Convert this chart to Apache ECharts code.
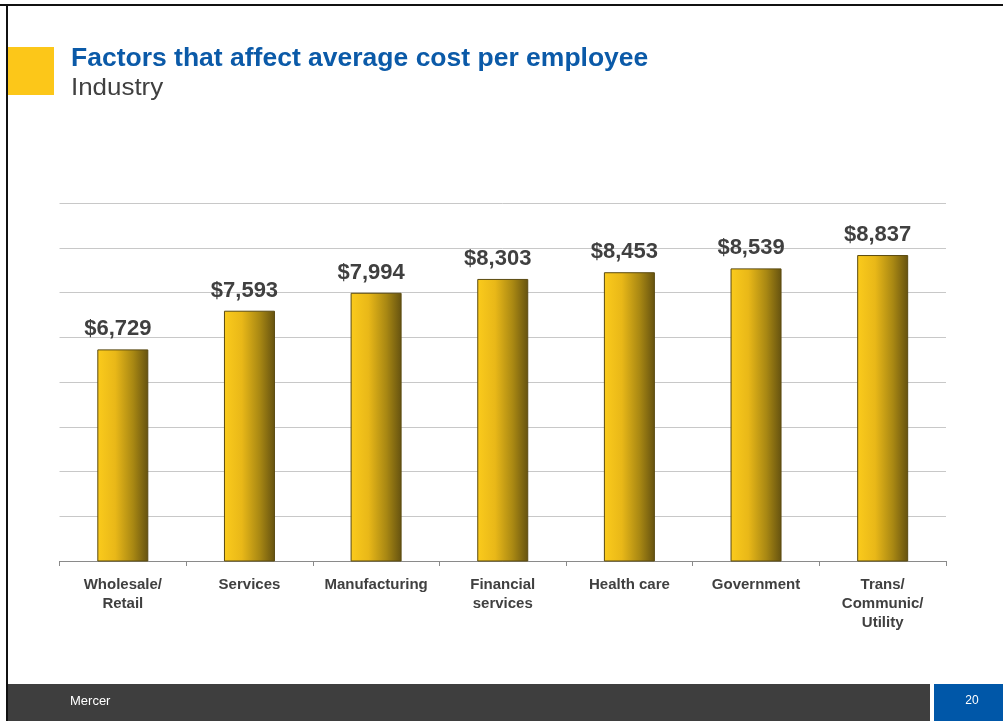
<!DOCTYPE html>
<html>
<head>
<meta charset="utf-8">
<script src="https://cdn.jsdelivr.net/npm/echarts@6/dist/echarts.min.js"></script>
<style>
  html, body { margin: 0; padding: 0; background: #ffffff; }
  #chart { width: 1003px; height: 721px; }
</style>
</head>
<body>
<div id="chart"></div>
<script>
// Average annual cost per employee by industry
const categories = ['Wholesale/\nRetail', 'Services', 'Manufacturing', 'Financial\nservices', 'Health care', 'Government', 'Trans/\nCommunic/\nUtility'];
const costs = [6729, 7593, 7994, 8303, 8453, 8539, 8837];

const titleText = 'Factors that affect average cost per employee';
const subtitleText = 'Industry';
const footerText = 'Mercer';
const pageNumber = '20';

const FONT = '"Liberation Sans", Arial, Helvetica, sans-serif';

const chart = echarts.init(document.getElementById('chart'), null, { renderer: 'canvas' });

const barFill = new echarts.graphic.LinearGradient(0, 0, 1, 0, [
  { offset: 0, color: '#FBCB1C' },
  { offset: 0.35, color: '#E9B818' },
  { offset: 0.7, color: '#A98813' },
  { offset: 1, color: '#655210' }
]);

chart.setOption({
  backgroundColor: '#ffffff',
  animation: false,
  grid: { left: 59.5, right: 57, top: 203, bottom: 160, containLabel: false },
  xAxis: {
    type: 'category',
    data: categories,
    axisLine: { lineStyle: { color: '#8a8a8a', width: 1 } },
    axisTick: { show: true, length: 5, alignWithLabel: false, lineStyle: { color: '#8a8a8a' } },
    axisLabel: {
      interval: 0,
      margin: 14,
      color: '#404040',
      fontFamily: FONT,
      fontWeight: 'bold',
      fontSize: 15,
      lineHeight: 19
    }
  },
  yAxis: {
    type: 'value',
    min: 2000,
    max: 10000,
    interval: 1000,
    axisLine: { show: false },
    axisTick: { show: false },
    axisLabel: { show: false },
    splitLine: { lineStyle: { color: '#c8c8c8', width: 1 } }
  },
  series: [{
    type: 'bar',
    data: costs,
    barWidth: 51,
    itemStyle: { color: barFill, borderColor: '#5a4a10', borderWidth: 1 },
    label: {
      show: true,
      position: 'top',
      distance: 9,
      offset: [-5, 0],
      color: '#404040',
      fontFamily: FONT,
      fontWeight: 'bold',
      fontSize: 22,
      formatter: p => '$' + p.value.toLocaleString('en-US')
    }
  }],
  graphic: [
    // frame edges
    { type: 'rect', shape: { x: 0, y: 4, width: 1003, height: 2 }, style: { fill: '#111111' }, z: 10 },
    { type: 'rect', shape: { x: 6, y: 4, width: 2, height: 717 }, style: { fill: '#111111' }, z: 10 },
    // yellow marker beside the title
    { type: 'rect', shape: { x: 8, y: 47, width: 46, height: 48 }, style: { fill: '#FCC719' }, z: 10 },
    {
      type: 'text', x: 71, y: 59, scaleX: 1.06, z: 10,
      style: { text: titleText, fill: '#0B5AA8', font: 'bold 25px ' + FONT, textVerticalAlign: 'middle' }
    },
    {
      type: 'text', x: 71, y: 88, scaleX: 1.08, z: 10,
      style: { text: subtitleText, fill: '#404040', font: '24px ' + FONT, textVerticalAlign: 'middle' }
    },
    // footer band
    { type: 'rect', shape: { x: 8, y: 684, width: 922, height: 37 }, style: { fill: '#3E3E3E' }, z: 10 },
    { type: 'rect', shape: { x: 934, y: 684, width: 69, height: 37 }, style: { fill: '#0057A8' }, z: 10 },
    {
      type: 'text', x: 70, y: 701, z: 11,
      style: { text: footerText, fill: '#ffffff', font: '13px ' + FONT, textVerticalAlign: 'middle' }
    },
    {
      type: 'text', x: 972, y: 701, z: 11,
      style: { text: pageNumber, fill: '#ffffff', font: '12px ' + FONT, textAlign: 'center', textVerticalAlign: 'middle' }
    }
  ]
});
</script>
</body>
</html>
